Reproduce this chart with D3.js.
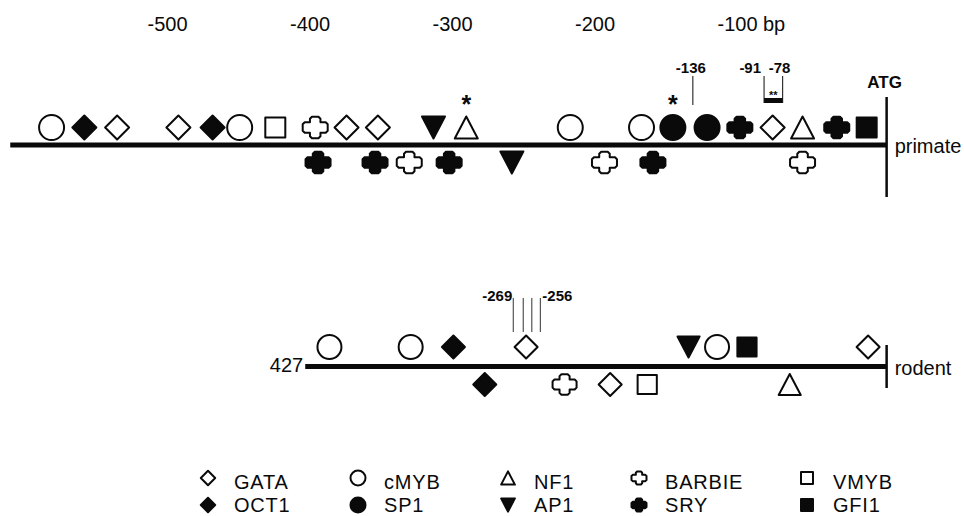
<!DOCTYPE html>
<html>
<head>
<meta charset="utf-8">
<script src="https://cdn.jsdelivr.net/npm/d3@7"></script>
<style>
  body { margin: 0; background: #fff; }
  svg { display: block; font-family: "Liberation Sans", Arial, sans-serif; }
</style>
</head>
<body>
<svg width="964" height="516"></svg>
<script>
// Axis ticks (bp upstream of ATG)
const tickValues = [-500, -400, -300, -200, -100];
const tickLabels = ["-500", "-400", "-300", "-200", "-100"];

// Binding sites: [factor, position (bp, drawing scale), side of the line]
const primateSites = [
    ["cMYB", -581, "up"], ["OCT1", -558, "up"], ["GATA", -535, "up"],
    ["GATA", -492, "up"], ["OCT1", -468, "up"], ["cMYB", -449, "up"],
    ["VMYB", -424, "up"], ["BARBIE", -396, "up"], ["GATA", -374, "up"],
    ["GATA", -352, "up"], ["AP1", -313, "up"], ["NF1", -290, "up"],
    ["cMYB", -217, "up"], ["cMYB", -167, "up"], ["SP1", -145, "up"],
    ["SP1", -121, "up"], ["SRY", -98, "up"], ["GATA", -75, "up"],
    ["NF1", -54, "up"], ["SRY", -30, "up"], ["GFI1", -9, "up"],
    ["SRY", -394, "down"], ["SRY", -354, "down"], ["BARBIE", -330, "down"],
    ["SRY", -302, "down"], ["AP1", -258, "down"], ["BARBIE", -193, "down"],
    ["SRY", -159, "down"], ["BARBIE", -54, "down"]
];
const rodentSites = [
    ["cMYB", -386, "up"], ["cMYB", -329, "up"], ["OCT1", -299, "up"],
    ["GATA", -248, "up"], ["AP1", -134, "up"], ["cMYB", -114, "up"],
    ["GFI1", -93, "up"], ["GATA", -8, "up"],
    ["OCT1", -277, "down"], ["BARBIE", -221, "down"], ["GATA", -189, "down"],
    ["VMYB", -163, "down"], ["NF1", -63, "down"]
];

// Line extents and markers
const atgPos = 5;
const primateStart = -610;
const rodentStart = -403;
const rodentStartLabel = "427";
const primateStars = [-290, -145];
const primateMark = {pos: -131, label: "-136"};
const primateBracket = {from: -81, to: -68, labels: ["-91", "-78"], note: "**"};
const rodentMarks = [-257, -250, -244, -238];
const rodentMarkLabels = ["-269", "-256"];

// Legend columns
const legendColumns = [["GATA", "OCT1"], ["cMYB", "SP1"], ["NF1", "AP1"], ["BARBIE", "SRY"], ["VMYB", "GFI1"]];

// ---- symbol shapes ----
const shapes = {
    circle: {draw(ctx, size) { const r = Math.sqrt(size) / 2; ctx.moveTo(r, 0); ctx.arc(0, 0, r, 0, 2 * Math.PI); }},
    diamond: {draw(ctx, size) { const r = Math.sqrt(size) / 2 * 0.96;
        ctx.moveTo(0, -r); ctx.lineTo(r, 0); ctx.lineTo(0, r); ctx.lineTo(-r, 0); ctx.closePath(); }},
    square: {draw(ctx, size) { const r = Math.sqrt(size) / 2 * 0.8; ctx.rect(-r, -r, 2 * r, 2 * r); }},
    triUp: {draw(ctx, size) { const r = Math.sqrt(size) / 2, w = r * 0.92, h = r * 0.88;
        ctx.moveTo(0, -h); ctx.lineTo(w, h); ctx.lineTo(-w, h); ctx.closePath(); }},
    triDown: {draw(ctx, size) { const r = Math.sqrt(size) / 2, w = r * 0.92, h = r * 0.88;
        ctx.moveTo(0, h); ctx.lineTo(w, -h); ctx.lineTo(-w, -h); ctx.closePath(); }},
    cross: {draw(ctx, size) {
        const r = Math.sqrt(size) / 2, W = r, H = r * 0.86, t = r * 0.42, c = r * 0.16;
        const pts = [[-t + c, -H], [t - c, -H], [t, -H + c], [t, -t], [W - c, -t], [W, -t + c], [W, t - c], [W - c, t],
            [t, t], [t, H - c], [t - c, H], [-t + c, H], [-t, H - c], [-t, t], [-W + c, t], [-W, t - c],
            [-W, -t + c], [-W + c, -t], [-t, -t], [-t, -H + c]];
        ctx.moveTo(pts[0][0], pts[0][1]);
        pts.slice(1).forEach(p => ctx.lineTo(p[0], p[1]));
        ctx.closePath();
    }}
};

const tfStyle = {
    GATA: {shape: shapes.diamond, filled: false},
    OCT1: {shape: shapes.diamond, filled: true},
    cMYB: {shape: shapes.circle, filled: false},
    SP1: {shape: shapes.circle, filled: true},
    NF1: {shape: shapes.triUp, filled: false},
    AP1: {shape: shapes.triDown, filled: true},
    BARBIE: {shape: shapes.cross, filled: false},
    SRY: {shape: shapes.cross, filled: true},
    VMYB: {shape: shapes.square, filled: false},
    GFI1: {shape: shapes.square, filled: true}
};

const svg = d3.select("svg");
const ink = "#0a0a0a";

const x = d3.scaleLinear().domain([-500, -100]).range([167, 737]);

function drawSymbol(g, tf, cx, cy, w) {
    const st = tfStyle[tf];
    g.append("path")
        .attr("transform", `translate(${cx},${cy})`)
        .attr("d", d3.symbol().type(st.shape).size(w * w)())
        .attr("fill", st.filled ? ink : "#fff")
        .attr("stroke", ink)
        .attr("stroke-width", 2)
        .attr("stroke-linejoin", "round");
}

// top axis
const axis = svg.append("g")
    .attr("transform", "translate(0,31)")
    .call(d3.axisTop(x).tickValues(tickValues).tickSize(0).tickPadding(0)
        .tickFormat((d, i) => tickLabels[i]));
axis.select(".domain").remove();
axis.selectAll("text").attr("font-size", 20).attr("font-family", "Liberation Sans, Arial, sans-serif").attr("fill", ink);
svg.append("text")
    .attr("x", x(-100) + 26).attr("y", 31)
    .attr("font-size", 20).attr("fill", ink)
    .text("bp");

// rows
const rows = [
    {name: "primate", y: 145, start: primateStart, sites: primateSites, up: -17.5, down: 17.5, size: 25, tickUp: 48, tickDown: 52},
    {name: "rodent", y: 366.5, start: rodentStart, sites: rodentSites, up: -19.5, down: 18, size: 24, tickUp: 21.5, tickDown: 21.5}
];

rows.forEach(row => {
    const g = svg.append("g");
    g.append("line")
        .attr("x1", x(row.start)).attr("x2", x(atgPos))
        .attr("y1", row.y).attr("y2", row.y)
        .attr("stroke", ink).attr("stroke-width", 5);
    g.append("line")
        .attr("x1", x(atgPos)).attr("x2", x(atgPos))
        .attr("y1", row.y - row.tickUp).attr("y2", row.y + row.tickDown)
        .attr("stroke", ink).attr("stroke-width", 2.5);
    g.append("text")
        .attr("x", x(atgPos) + 8).attr("y", row.y + 8)
        .attr("font-size", 20).attr("fill", ink)
        .text(row.name);
    row.sites.forEach(([tf, pos, side]) => {
        drawSymbol(g, tf, x(pos), row.y + (side === "up" ? row.up : row.down), row.size);
    });
});

// ATG label
svg.append("text")
    .attr("x", x(atgPos) - 2).attr("y", 88)
    .attr("text-anchor", "middle")
    .attr("font-size", 17).attr("font-weight", "bold").attr("fill", ink)
    .text("ATG");

// "427" start label on rodent line
svg.append("text")
    .attr("x", x(rodentStart) - 2).attr("y", 372)
    .attr("text-anchor", "end")
    .attr("font-size", 20).attr("fill", ink)
    .text(rodentStartLabel);

// asterisks
primateStars.forEach(p => {
    svg.append("text")
        .attr("x", x(p)).attr("y", 113)
        .attr("text-anchor", "middle")
        .attr("font-size", 25).attr("font-weight", "bold").attr("fill", ink)
        .text("*");
});

// -136 mark
svg.append("line")
    .attr("x1", x(primateMark.pos)).attr("x2", x(primateMark.pos))
    .attr("y1", 76).attr("y2", 105)
    .attr("stroke", "#333").attr("stroke-width", 1.2);
svg.append("text")
    .attr("x", x(primateMark.pos) - 2).attr("y", 73)
    .attr("text-anchor", "middle")
    .attr("font-size", 15).attr("font-weight", "bold").attr("fill", ink)
    .text(primateMark.label);

// -91 / -78 bracket
const bx1 = x(primateBracket.from), bx2 = x(primateBracket.to);
[bx1, bx2].forEach(bx => {
    svg.append("line")
        .attr("x1", bx).attr("x2", bx).attr("y1", 76).attr("y2", 103)
        .attr("stroke", "#333").attr("stroke-width", 1.2);
});
svg.append("rect")
    .attr("x", bx1).attr("y", 98).attr("width", bx2 - bx1).attr("height", 5)
    .attr("fill", ink);
svg.append("text")
    .attr("x", (bx1 + bx2) / 2).attr("y", 99)
    .attr("text-anchor", "middle")
    .attr("font-size", 11).attr("font-weight", "bold").attr("fill", ink)
    .text(primateBracket.note);
svg.append("text")
    .attr("x", bx1 - 3).attr("y", 73)
    .attr("text-anchor", "end")
    .attr("font-size", 15).attr("font-weight", "bold").attr("fill", ink)
    .text(primateBracket.labels[0]);
svg.append("text")
    .attr("x", bx2 - 3).attr("y", 73)
    .attr("text-anchor", "middle")
    .attr("font-size", 15).attr("font-weight", "bold").attr("fill", ink)
    .text(primateBracket.labels[1]);

// rodent -269..-256 marks
rodentMarks.forEach(p => {
    svg.append("line")
        .attr("x1", x(p)).attr("x2", x(p)).attr("y1", 298).attr("y2", 332)
        .attr("stroke", "#444").attr("stroke-width", 1.1);
});
svg.append("text")
    .attr("x", x(rodentMarks[0]) - 1).attr("y", 301)
    .attr("text-anchor", "end")
    .attr("font-size", 15).attr("font-weight", "bold").attr("fill", ink)
    .text(rodentMarkLabels[0]);
svg.append("text")
    .attr("x", x(rodentMarks[rodentMarks.length - 1]) + 2).attr("y", 301)
    .attr("text-anchor", "start")
    .attr("font-size", 15).attr("font-weight", "bold").attr("fill", ink)
    .text(rodentMarkLabels[1]);

// legend
const legendX = [208, 358, 508, 639, 807];
const legendY = [478, 505];
const legendBase = [489, 512];
const legend = svg.append("g");
legendColumns.forEach((col, ci) => {
    col.forEach((tf, ri) => {
        drawSymbol(legend, tf, legendX[ci], legendY[ri], 15);
        legend.append("text")
            .attr("x", legendX[ci] + 26).attr("y", legendBase[ri])
            .attr("font-size", 20).attr("letter-spacing", 0.8).attr("fill", ink)
            .text(tf);
    });
});
</script>
</body>
</html>
